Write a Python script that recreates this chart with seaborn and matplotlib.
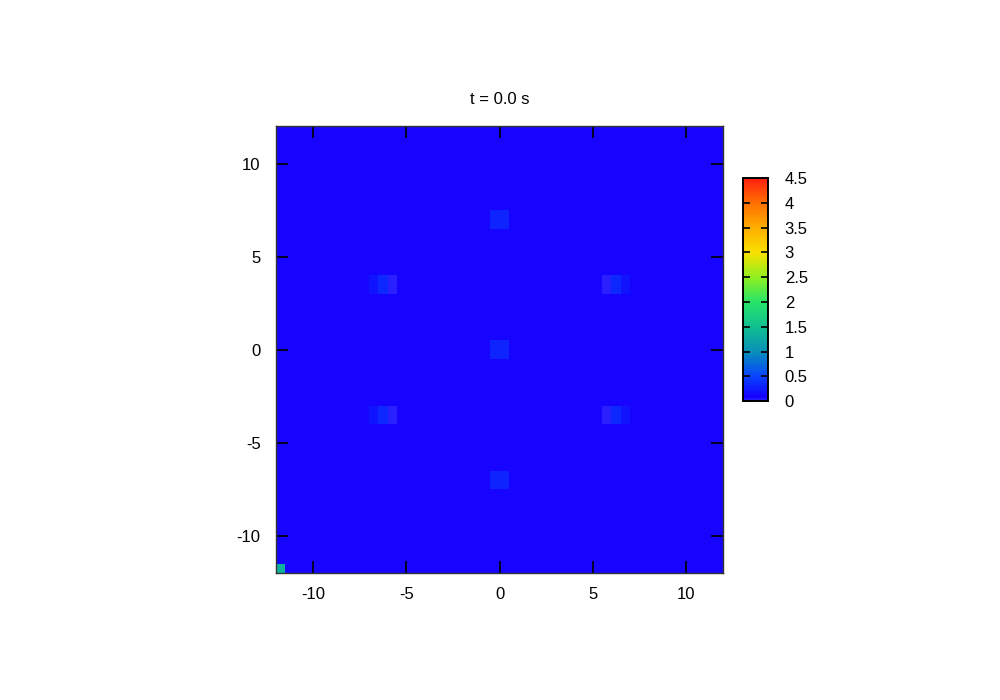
import numpy as np
import pandas as pd
import matplotlib
matplotlib.use("Agg")
import matplotlib.pyplot as plt
from matplotlib.colors import LinearSegmentedColormap
import seaborn as sns

# ===============================
# DATOS
# ===============================

x_min, x_max, step = -12.0, 12.0, 0.5
fondo = 0.08          # valor casi uniforme en todo el dominio

# manchas: limites en x, limites en y, valor
spot_x0 = [-0.5, -0.5, -0.5, -7.0, -6.5, -6.0, 5.5, 6.0, 6.5, -7.0, -6.5, -6.0, 5.5, 6.0, 6.5, -12.0]
spot_x1 = [0.5, 0.5, 0.5, -6.5, -6.0, -5.5, 6.0, 6.5, 7.0, -6.5, -6.0, -5.5, 6.0, 6.5, 7.0, -11.5]
spot_y0 = [-0.5, 6.5, -7.5, 3.0, 3.0, 3.0, 3.0, 3.0, 3.0, -4.0, -4.0, -4.0, -4.0, -4.0, -4.0, -12.0]
spot_y1 = [0.5, 7.5, -6.5, 4.0, 4.0, 4.0, 4.0, 4.0, 4.0, -3.0, -3.0, -3.0, -3.0, -3.0, -3.0, -11.5]
spot_val = [0.3, 0.3, 0.3, 0.2, 0.33, 0.0, 0.0, 0.33, 0.2, 0.2, 0.33, 0.0, 0.0, 0.33, 0.2, 1.35]

ticks_xy = [-10, -5, 0, 5, 10]
ticks_cb = [0, 0.5, 1, 1.5, 2, 2.5, 3, 3.5, 4, 4.5]
cb_labels = ["0", "0.5", "1", "1.5", "2", "2.5", "3", "3.5", "4", "4.5"]
vmin, vmax = 0.0, 4.5
titulo = "t = 0.0 s"

# paleta tipo gnuplot
pal_pos = [0.0, 0.08, 0.5, 1.0, 1.5, 2.0, 2.5, 3.0, 3.5, 4.0, 4.5]
pal_col = ["#2a20ff", "#1400ff", "#0845ff", "#0890b8", "#10c090", "#28e468",
           "#90f020", "#f8e000", "#ffae00", "#ff7000", "#ff2010"]

# ===============================
# MALLA
# ===============================

edges = np.arange(x_min, x_max + step / 2, step)
centros = edges[:-1] + step / 2
Z = np.full((len(centros), len(centros)), fondo)
for x0, x1, y0, y1, v in zip(spot_x0, spot_x1, spot_y0, spot_y1, spot_val):
    mx = (centros > x0) & (centros < x1)
    my = (centros > y0) & (centros < y1)
    Z[np.ix_(my, mx)] = v
df = pd.DataFrame(Z, index=centros, columns=centros)

cmap = LinearSegmentedColormap.from_list(
    "gp", list(zip([p / vmax for p in pal_pos], pal_col)))

# ===============================
# FIGURA
# ===============================

sns.set_style("white")
plt.rcParams["font.family"] = ["Liberation Sans", "DejaVu Sans"]
plt.rcParams["text.color"] = "black"
plt.rcParams["xtick.color"] = "black"
plt.rcParams["ytick.color"] = "black"

fig = plt.figure(figsize=(10, 7), dpi=100)
ax = fig.add_axes([0.276, 0.181, 0.447, 0.6386])
cax = fig.add_axes([0.743, 0.427, 0.025, 0.3186])

sns.heatmap(df, ax=ax, cmap=cmap, vmin=vmin, vmax=vmax, cbar_ax=cax,
            linewidths=0, xticklabels=False, yticklabels=False)
ax.invert_yaxis()
ax.set_axisbelow(False)
cax.set_axisbelow(False)

pos = [(t - x_min) / step for t in ticks_xy]
ax.set_xticks(pos)
ax.set_xticklabels([str(t) for t in ticks_xy])
ax.set_yticks(pos)
ax.set_yticklabels([str(t) for t in ticks_xy], rotation=0)
ax.set_xlabel("")
ax.set_ylabel("")
for s in ax.spines.values():
    s.set_visible(True)
    s.set_color("#333333")
    s.set_linewidth(1.0)
    s.set_zorder(5)
ax.tick_params(axis="both", direction="in", top=True, right=True,
               bottom=True, left=True,
               length=8.5, width=1.2, color="black", labelcolor="black",
               labelsize=12)
ax.tick_params(axis="x", pad=10)
ax.tick_params(axis="y", pad=11)
ax.set_title(titulo, fontsize=12, pad=16, color="black")

cax.set_yticks(ticks_cb)
cax.set_yticklabels(cb_labels)
cax.tick_params(direction="in", left=True, right=True, length=5, width=1.2,
                color="black", labelcolor="black", labelsize=12, pad=12)
for s in cax.spines.values():
    s.set_visible(True)
    s.set_color("black")
    s.set_linewidth(1.2)

fig.savefig("out.png", dpi=100)
